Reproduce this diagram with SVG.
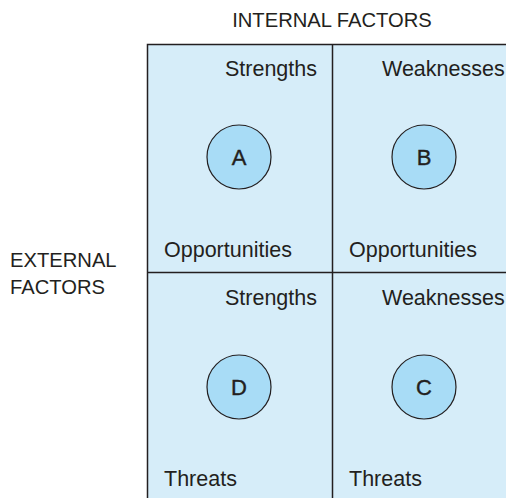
<svg xmlns="http://www.w3.org/2000/svg" width="506" height="498" viewBox="0 0 506 498">
<style>
.cell{fill:#d6edf9;stroke:none}
.ln{stroke:#231f20;stroke-width:1.5;fill:none}
.t{font-family:"Liberation Sans",Arial,sans-serif;font-size:21.5px;fill:#231f20}
.a{font-family:"Liberation Sans",Arial,sans-serif;font-size:20.2px;fill:#231f20}
.c{fill:#a8dcf6;stroke:#231f20;stroke-width:1.2}
.l{font-family:"Liberation Sans",Arial,sans-serif;font-size:22px;fill:#231f20;stroke:#231f20;stroke-width:0.4;text-anchor:middle}
</style>
<rect width="506" height="498" fill="#fff"/>
<text class="a" x="332" y="27" text-anchor="middle">INTERNAL FACTORS</text>
<text class="a" x="10" y="267">EXTERNAL</text>
<text class="a" x="10" y="294">FACTORS</text>
<g id="grid">
<rect class="cell" x="147" y="44" width="359" height="454"/>
<path class="ln" d="M147.5 498V44.5H506M332.5 44V498M147 272.5H506"/>
</g>
<g id="q1">
<text class="t" x="317" y="76" text-anchor="end">Strengths</text>
<text class="t" x="164" y="257">Opportunities</text>
<circle class="c" cx="239" cy="157" r="32"/>
<text class="l" x="239" y="165">A</text>
</g>
<g id="q2">
<text class="t" x="382" y="76">Weaknesses</text>
<text class="t" x="349" y="257">Opportunities</text>
<circle class="c" cx="424" cy="157" r="32"/>
<text class="l" x="424" y="165">B</text>
</g>
<g id="q3">
<text class="t" x="317" y="305" text-anchor="end">Strengths</text>
<text class="t" x="164" y="486">Threats</text>
<circle class="c" cx="239" cy="387" r="32"/>
<text class="l" x="239" y="395">D</text>
</g>
<g id="q4">
<text class="t" x="382" y="305">Weaknesses</text>
<text class="t" x="349" y="486">Threats</text>
<circle class="c" cx="424" cy="387" r="32"/>
<text class="l" x="424" y="395">C</text>
</g>
<g id="connectors"></g>
</svg>
